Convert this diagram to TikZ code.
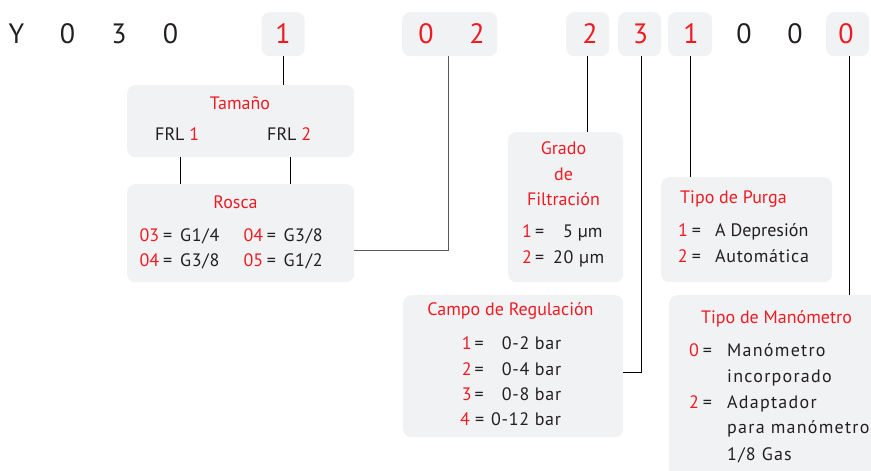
\documentclass[tikz,border=0pt]{standalone}
\usepackage{fontspec}
\setmainfont{PT Sans}
\definecolor{rd}{HTML}{ED1C24}
\definecolor{bx}{HTML}{F1F2F4}
\definecolor{tx}{HTML}{231F20}
\newcommand{\R}[1]{\textcolor{rd}{#1}}
\newcommand{\coderow}[8][]{%
  \node[txt,anchor=base west,text=rd] (#2n) at (#4,#3) {#7};
  \node[txt,anchor=base west] (#2e) at (#5,#3) {=};
  \node[txt,anchor=base west,#1] (#2v) at (#6,#3) {#8};
}
\tikzset{
  box/.style={fill=bx, draw=none, rounded corners=8pt, inner sep=0pt, anchor=north west},
  txt/.style={inner sep=0pt, anchor=base, font=\fontsize{18}{22}\selectfont, text=tx},
  wide/.style={font=\fontsize{18}{22}\selectfont\addfontfeature{LetterSpace=4}},
  wider/.style={font=\fontsize{18}{22}\selectfont\addfontfeature{LetterSpace=7}},
  ttl/.style={txt, text=rd},
  dig/.style={inner sep=0pt, anchor=base, font=\fontsize{28}{30}\selectfont, text=tx},
  rdig/.style={dig, text=rd},
  ln/.style={draw=black, line width=0.8pt},
  gln/.style={draw=black!65, line width=0.8pt}
}
\begin{document}
\begin{tikzpicture}[x=1pt,y=-1pt]
\useasboundingbox (0,0) rectangle (871,471);
% top boxes
\node[box, minimum width=43pt, minimum height=44pt] (b1) at (261.5,12) {};
\node[box, minimum width=95pt, minimum height=44pt] (b02) at (402,12) {};
\node[box, minimum width=43pt, minimum height=44pt] (b2) at (566,12) {};
\node[box, minimum width=43pt, minimum height=44pt] (b3) at (618,12) {};
\node[box, minimum width=44pt, minimum height=44pt] (b1b) at (668,12) {};
\node[box, minimum width=43pt, minimum height=44pt] (b0) at (826,12) {};
% top digits
\node[dig] (dY) at (16.5,43.3) {Y};
\node[dig] (d0a) at (67.5,43.3) {0};
\node[dig] (d3a) at (119,43.3) {3};
\node[dig] (d0b) at (170.5,43.3) {0};
\node[rdig] (d1a) at (283,43.3) {1};
\node[rdig] (d0c) at (426,43.3) {0};
\node[rdig] (d2a) at (477,43.3) {2};
\node[rdig] (d2b) at (590,43.3) {2};
\node[rdig] (d3b) at (640.5,43.3) {3};
\node[rdig] (d1b) at (691,43.3) {1};
\node[dig] (d0d) at (744,43.3) {0};
\node[dig] (d0e) at (795,43.3) {0};
\node[rdig] (d0f) at (846,43.3) {0};
% option boxes
\node[box, minimum width=227pt, minimum height=72pt] (tam) at (127,85) {};
\node[box, minimum width=227pt, minimum height=98pt] (ros) at (127,184) {};
\node[box, minimum width=115pt, minimum height=150pt] (gra) at (508,132) {};
\node[box, minimum width=171pt, minimum height=105pt] (pur) at (661,177) {};
\node[box, minimum width=220pt, minimum height=142pt] (cam) at (403,295) {};
\begin{scope}
\clip (0,0) rectangle (871,471);
\node[box, minimum width=240pt, minimum height=220pt] (man) at (669,295) {};
\end{scope}
% connectors
\draw[ln] (b1.south) -- (b1.south |- tam.north);
\draw[ln] ([xshift=-60.5pt]tam.south) -- ([xshift=-60.5pt]ros.north);
\draw[ln] ([xshift=49.5pt]tam.south) -- ([xshift=49.5pt]ros.north);
\draw[gln] ([yshift=-17pt]ros.east) -| ([xshift=-1.5pt]b02.south);
\draw[ln] (b2.south) -- (b2.south |- gra.north);
\draw[ln] ([xshift=2pt]b3.south) |- ([yshift=-6pt]cam.east);
\draw[ln] (b1b.south) -- (b1b.south |- pur.north);
\draw[ln] ([xshift=2pt]b0.south) -- ([xshift=2pt]b0.south |- man.north);
% Tamano
\node[ttl] (tamt) at (240,109) {Tamaño};
\node[txt,anchor=base west] (frl1) at (155,140) {FRL \R{1}};
\node[txt,anchor=base west] (frl2) at (267,140) {FRL \R{2}};
% Rosca
\node[ttl] (rost) at (235.5,208) {Rosca};
\coderow[wide]{ra}{241}{139.3}{163}{180}{03}{G1/4}
\coderow[wide]{rb}{241}{243.3}{266.7}{283.3}{04}{G3/8}
\coderow[wide]{rc}{266}{139.3}{163}{180}{04}{G3/8}
\coderow[wide]{rd}{266}{243.3}{266.7}{283.3}{05}{G1/2}
% Grado
\node[ttl] (grat1) at (563.5,154) {Grado};
\node[ttl] (grat2) at (563.5,180) {de};
\node[ttl] (grat3) at (563.5,205) {Filtración};
\coderow{ga}{237.5}{522}{535}{563}{1}{5 µm}
\coderow[wide]{gb}{263}{522}{535}{553}{2}{20 µm}
% Purga
\node[ttl,anchor=base west] (purt) at (680,203) {Tipo de Purga};
\coderow{pa}{236.7}{678}{691.7}{715}{1}{A Depresión}
\coderow[wide]{pb}{262.7}{677.7}{691.7}{715}{2}{Automática}
% Campo
\node[ttl] (camt) at (510.5,315.7) {Campo de Regulación};
\coderow[wide]{ca}{349}{461.7}{474.3}{501.7}{1}{0-2 bar}
\coderow[wide]{cb}{375}{461.7}{474.3}{501.7}{2}{0-4 bar}
\coderow[wide]{cc}{400}{461.7}{474.3}{501.7}{3}{0-8 bar}
\coderow[wide]{cd}{425}{460}{475}{491}{4}{0-12 bar}
% Manometro
\node[ttl] (mant) at (776.5,323.3) {Tipo de Manómetro};
\coderow[wider]{ma}{356.7}{689}{702.7}{727}{0}{Manómetro}
\node[txt,wider,anchor=base west] (mb) at (727,382) {incorporado};
\coderow[wider]{mc}{408}{689}{702.7}{727}{2}{Adaptador}
\node[txt,wider,anchor=base west] (md) at (727,433) {para manómetro};
\node[txt,wider,anchor=base west] (me) at (727,460) {1/8 Gas};
\end{tikzpicture}
\end{document}
